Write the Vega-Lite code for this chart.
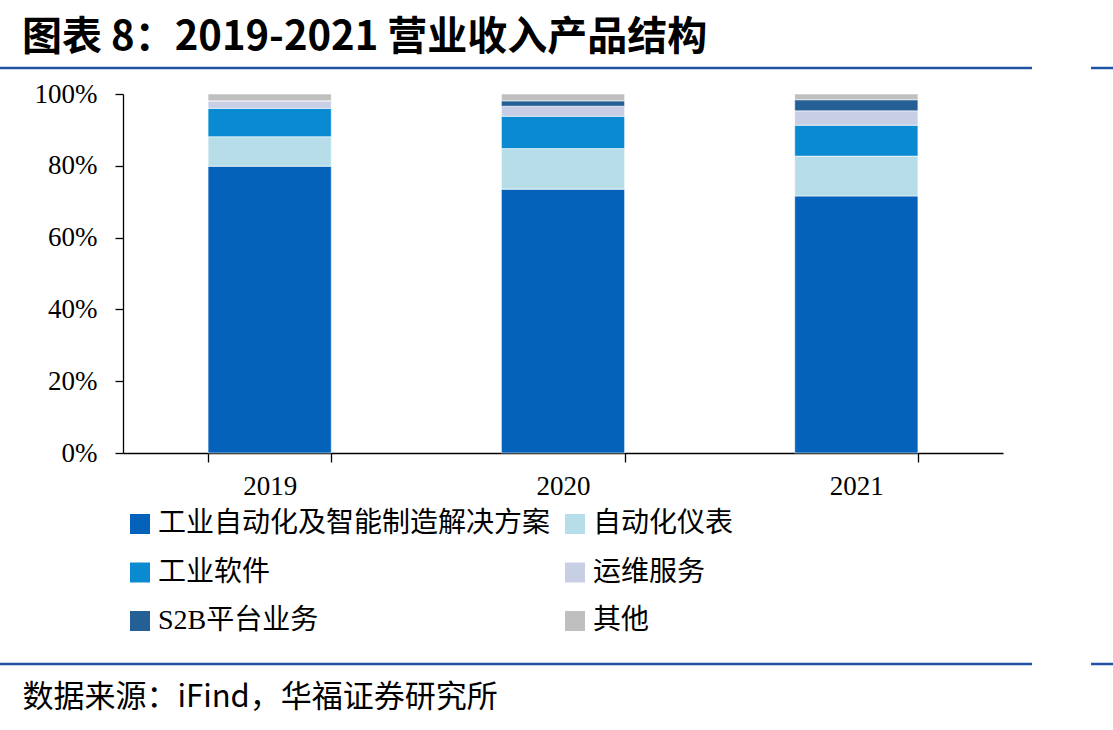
{
  "$schema": "https://vega.github.io/schema/vega-lite/v6.json",
  "autosize": "none",
  "width": 880,
  "height": 359,
  "padding": {"left": 123, "top": 94, "right": 110, "bottom": 277},
  "background": "#ffffff",
  "config": {
    "view": {"stroke": null},
    "axis": {"grid": false, "domainColor": "#000000", "tickColor": "#000000", "domainWidth": 1.3, "tickWidth": 1.3}
  },
  "title": {
    "text": "图表 8：2019-2021 营业收入产品结构",
    "anchor": "start",
    "frame": "group",
    "dx": -101,
    "offset": 9,
    "font": "Noto Sans CJK SC",
    "fontSize": 40,
    "fontWeight": "bold",
    "color": "#000000"
  },
  "layer": [
    {
      "data": {
        "values": [
          {"year": "2019", "segment": "工业自动化及智能制造解决方案", "share": 79.9},
          {"year": "2019", "segment": "自动化仪表", "share": 8.2},
          {"year": "2019", "segment": "工业软件", "share": 7.9},
          {"year": "2019", "segment": "运维服务", "share": 2.1},
          {"year": "2019", "segment": "S2B平台业务", "share": 0},
          {"year": "2019", "segment": "其他", "share": 1.9},
          {"year": "2020", "segment": "工业自动化及智能制造解决方案", "share": 73.5},
          {"year": "2020", "segment": "自动化仪表", "share": 11.3},
          {"year": "2020", "segment": "工业软件", "share": 9.0},
          {"year": "2020", "segment": "运维服务", "share": 2.8},
          {"year": "2020", "segment": "S2B平台业务", "share": 1.5},
          {"year": "2020", "segment": "其他", "share": 1.9},
          {"year": "2021", "segment": "工业自动化及智能制造解决方案", "share": 71.6},
          {"year": "2021", "segment": "自动化仪表", "share": 11.1},
          {"year": "2021", "segment": "工业软件", "share": 8.6},
          {"year": "2021", "segment": "运维服务", "share": 4.0},
          {"year": "2021", "segment": "S2B平台业务", "share": 3.1},
          {"year": "2021", "segment": "其他", "share": 1.6}
        ]
      },
      "transform": [
        {"calculate": "indexof(['工业自动化及智能制造解决方案', '自动化仪表', '工业软件', '运维服务', 'S2B平台业务', '其他'], datum.segment)", "as": "stackIndex"}
      ],
      "mark": {"type": "bar", "stroke": "#ffffff", "strokeWidth": 0.8, "strokeOpacity": 0.7},
      "encoding": {
        "x": {
          "field": "year",
          "type": "nominal",
          "scale": {"paddingInner": 0.58, "paddingOuter": 0.29},
          "axis": {
            "labelAngle": 0,
            "labelFont": "Liberation Serif",
            "labelFontSize": 27,
            "labelColor": "#000000",
            "labelPadding": 11,
            "tickSize": 9,
            "tickBand": "extent",
            "title": "数据来源：iFind，华福证券研究所",
            "titleFont": "Noto Sans CJK SC",
            "titleFontSize": 31,
            "titleFontWeight": "normal",
            "titleColor": "#000000",
            "titleAnchor": "start",
            "titleAlign": "left",
            "titleBaseline": "middle",
            "titleX": -101,
            "titleY": 244
          }
        },
        "y": {
          "field": "share",
          "type": "quantitative",
          "stack": "zero",
          "scale": {"domain": [0, 100], "nice": false},
          "axis": {
            "title": null,
            "values": [0, 20, 40, 60, 80, 100],
            "labelExpr": "datum.value + '%'",
            "labelFont": "Liberation Serif",
            "labelFontSize": 27,
            "labelColor": "#000000",
            "labelPadding": 18,
            "tickSize": 8
          }
        },
        "color": {
          "field": "segment",
          "type": "nominal",
          "scale": {
            "domain": ["工业自动化及智能制造解决方案", "工业软件", "S2B平台业务", "自动化仪表", "运维服务", "其他"],
            "range": ["#0562BA", "#0A8AD1", "#245F95", "#B7DEE8", "#C8CEE4", "#BFBFBF"]
          },
          "legend": {
            "orient": "none",
            "legendX": 3,
            "legendY": 416,
            "title": null,
            "columns": 2,
            "columnPadding": 10,
            "rowPadding": 20.5,
            "symbolType": "square",
            "symbolSize": 400,
            "symbolStrokeWidth": 0,
            "symbolOpacity": 1,
            "labelFont": "Liberation Serif, Noto Sans CJK SC",
            "labelFontSize": 28,
            "labelColor": "#000000",
            "labelOffset": 4,
            "labelLimit": 600
          }
        },
        "order": {"field": "stackIndex", "type": "quantitative", "sort": "ascending"}
      }
    },
    {
      "data": {"values": [{}]},
      "mark": {"type": "rule", "color": "#2152A3", "strokeWidth": 2.5},
      "encoding": {"x": {"value": -123}, "x2": {"value": 909}, "y": {"value": -26}}
    },
    {
      "data": {"values": [{}]},
      "mark": {"type": "rule", "color": "#2152A3", "strokeWidth": 2.5},
      "encoding": {"x": {"value": 968}, "x2": {"value": 990}, "y": {"value": -26}}
    },
    {
      "data": {"values": [{}]},
      "mark": {"type": "rule", "color": "#2152A3", "strokeWidth": 2.5},
      "encoding": {"x": {"value": -123}, "x2": {"value": 909}, "y": {"value": 570}}
    },
    {
      "data": {"values": [{}]},
      "mark": {"type": "rule", "color": "#2152A3", "strokeWidth": 2.5},
      "encoding": {"x": {"value": 968}, "x2": {"value": 990}, "y": {"value": 570}}
    }
  ]
}
